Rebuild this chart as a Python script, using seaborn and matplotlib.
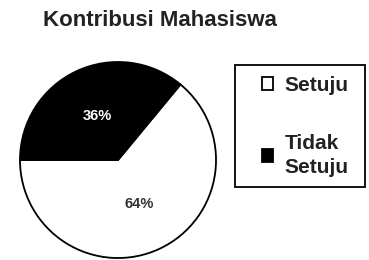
import matplotlib
matplotlib.use('Agg')
import matplotlib.pyplot as plt
from matplotlib.patches import Rectangle
import seaborn as sns

# Data
labels = ['Setuju', 'Tidak\nSetuju']
values = [64, 36]
colors = ['white', 'black']
pct_colors = ['#333333', 'white']
title = 'Kontribusi Mahasiswa'

sns.set_style('white')
plt.rcParams['font.family'] = ['Liberation Sans', 'DejaVu Sans']

fig = plt.figure(figsize=(3.69, 2.6), dpi=100)
W, H = 369, 260

# Pie axes (centre ~ (118,160), radius ~ 99 px)
cx, cy, r = 118, 160, 99
ax = fig.add_axes([(cx - r) / W, (H - cy - r) / H, 2 * r / W, 2 * r / H])
wedges, texts, autotexts = ax.pie(
    values, colors=colors, startangle=180, counterclock=True,
    autopct='%1.0f%%', pctdistance=0.5,
    wedgeprops=dict(edgecolor='black', linewidth=1.3),
)
for t, c in zip(autotexts, pct_colors):
    t.set_color(c)
    t.set_fontsize(10.5)
    t.set_fontweight('bold')
ax.set_xlim(-1.01, 1.01)
ax.set_ylim(-1.01, 1.01)
ax.set_aspect('equal')

fig.text(43 / W, 1 - 20 / H, title, fontsize=16, fontweight='bold',
         va='center', ha='left', color='#222222')

# legend frame
fig.patches.append(Rectangle((235 / W, 1 - 187 / H), 130 / W, 122 / H,
                             transform=fig.transFigure, facecolor='white',
                             edgecolor='black', linewidth=1.3))

leg = fig.legend(wedges, labels, loc='upper left',
                 bbox_to_anchor=(262 / W, 1 - 76 / H),
                 frameon=False, prop=dict(weight='bold', size=15),
                 handlelength=0.55, handleheight=0.55, handletextpad=0.55,
                 labelspacing=1.85, borderpad=0, borderaxespad=0)
for t in leg.get_texts():
    t.set_color('#222222')
    t.set_linespacing(1.35)

fig.savefig('out.png', dpi=100)
